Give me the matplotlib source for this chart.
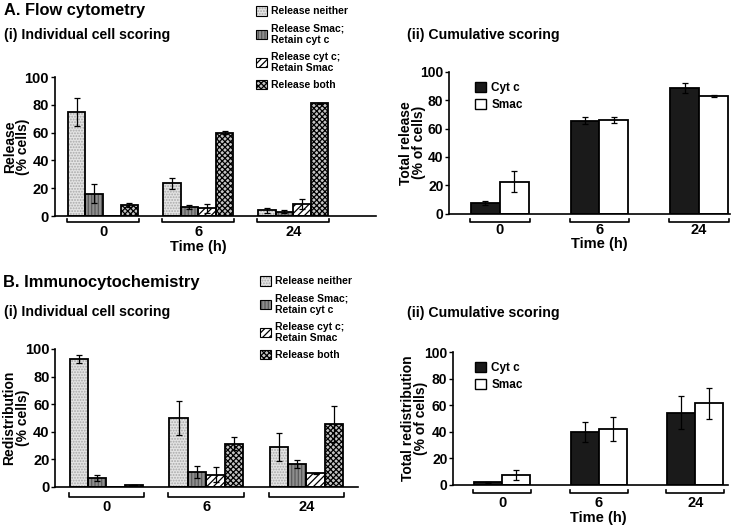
import matplotlib
matplotlib.use('Agg')
import matplotlib.pyplot as plt
import numpy as np
from matplotlib.patches import Patch
from matplotlib.transforms import blended_transform_factory
from matplotlib.legend_handler import HandlerTuple

plt.rcParams['font.family'] = ['Liberation Sans', 'DejaVu Sans']
plt.rcParams['font.weight'] = 'bold'
plt.rcParams['hatch.linewidth'] = 0.9

# ---------------- data ----------------
times = ['0', '6', '24']
categories = ['Release neither', 'Release Smac;\nRetain cyt c',
              'Release cyt c;\nRetain Smac', 'Release both']
cum_series = ['Cyt c', 'Smac']

# A(i) flow cytometry, individual cell scoring
a_neither = [75, 23.5, 4]
a_neither_err = [10, 4, 1.5]
a_smac = [16, 6.5, 3]
a_smac_err = [7, 1.5, 1]
a_cytc = [0, 5.5, 8.5]
a_cytc_err = [0, 3, 3.5]
a_both = [8, 60, 81]
a_both_err = [1.5, 1, 0.3]

# A(ii) flow cytometry, cumulative scoring
a_cum_cytc = [7.5, 65.5, 88.5]
a_cum_cytc_err = [1.5, 2.5, 3.5]
a_cum_smac = [22.5, 66, 83]
a_cum_smac_err = [7.5, 2, 0.5]

# B(i) immunocytochemistry, individual cell scoring
b_neither = [92.5, 50, 29]
b_neither_err = [3, 12, 10]
b_smac = [6.5, 11, 16.5]
b_smac_err = [2.5, 4.5, 3]
b_cytc = [0, 9, 10]
b_cytc_err = [0, 5.5, 0.5]
b_both = [1.5, 31.5, 45.5]
b_both_err = [0.3, 5, 13]

# B(ii) immunocytochemistry, cumulative scoring
b_cum_cytc = [2, 40, 54.5]
b_cum_cytc_err = [0.5, 7.5, 12.5]
b_cum_smac = [7.5, 42, 61.5]
b_cum_smac_err = [3.5, 9, 11.5]

yticks = [0, 20, 40, 60, 80, 100]

# ---------------- styles ----------------
ind_styles = [
    dict(fc='#e4e4e4', hatch='......', hc='#a8a8a8'),
    dict(fc='#8e8e8e', hatch='|||||', hc='#5a5a5a'),
    dict(fc='white', hatch='/////', hc='black'),
    dict(fc='#c4c4c4', hatch='xxxxxx', hc='black'),
]
cum_styles = ['#1a1a1a', 'white']

W, H = 751, 528
fig = plt.figure(figsize=(W / 100, H / 100), dpi=100)


def ax_px(l, r, t, b):
    return fig.add_axes([l / W, 1 - b / H, (r - l) / W, (b - t) / H])


def style_axis(ax, ylabel, lab_x, tsize):
    ax.set_ylim(0, 100)
    ax.set_yticks(yticks)
    ax.set_xticks([])
    for s in ['top', 'right']:
        ax.spines[s].set_visible(False)
    for s in ['left', 'bottom']:
        ax.spines[s].set_linewidth(1.2)
    ax.tick_params(axis='y', direction='out', length=3, width=1.0,
                   labelsize=tsize, pad=1)
    for t in ax.get_yticklabels():
        t.set_fontweight('bold')
    ax.set_ylabel(ylabel, fontsize=10, fontweight='bold', linespacing=0.95)
    ax.yaxis.set_label_coords(lab_x, 0.5)


def brackets(ax, centers, half, off_frac, lab_frac, tick_frac=0.025):
    tr = blended_transform_factory(ax.transData, ax.transAxes)
    for c, lab in zip(centers, times):
        x0, x1 = c - half, c + half
        ax.plot([x0, x0, x1, x1],
                [-off_frac + tick_frac, -off_frac, -off_frac, -off_frac + tick_frac],
                color='black', lw=1.2, transform=tr, clip_on=False)
        ax.text(c, -lab_frac, lab, transform=tr, ha='center', va='center',
                fontsize=10.5, fontweight='bold')


def individual(ax, series, errs, w):
    x = np.arange(len(times))
    offs = (np.arange(4) - 1.5) * w
    for vals, err, st, o in zip(series, errs, ind_styles, offs):
        ax.bar(x + o, vals, w, color=st['fc'], edgecolor=st['hc'],
               hatch=st['hatch'], linewidth=0, zorder=2)
        ax.bar(x + o, vals, w, fill=False, edgecolor='black', linewidth=1.3,
               zorder=3)
        v = np.array(vals, float)
        e = np.array(err, float)
        m = v > 0
        ax.errorbar((x + o)[m], v[m], yerr=e[m], fmt='none', ecolor='black',
                    elinewidth=0.9, capsize=2, capthick=0.9, zorder=4)
    return x


def cumulative(ax, series, errs, w):
    x = np.arange(len(times))
    offs = (np.arange(2) - 0.5) * w
    for vals, err, fc, o in zip(series, errs, cum_styles, offs):
        ax.bar(x + o, vals, w, color=fc, edgecolor='black', linewidth=1.3,
               zorder=2)
        ax.errorbar(x + o, vals, yerr=err, fmt='none', ecolor='black',
                    elinewidth=0.9, capsize=2, capthick=0.9, zorder=4)
    return x


def ind_legend(ax, anchor):
    handles = []
    for st in ind_styles:
        handles.append((Patch(facecolor=st['fc'], edgecolor=st['hc'],
                              hatch=st['hatch'], linewidth=0),
                        Patch(fill=False, edgecolor='black', linewidth=0.8)))
    leg = ax.legend(handles, categories, loc='upper left',
                    bbox_to_anchor=anchor, bbox_transform=fig.transFigure,
                    frameon=False, fontsize=7.5, handlelength=1.0,
                    handleheight=1.0, handletextpad=0.4, labelspacing=0.65,
                    borderpad=0, handler_map={tuple: HandlerTuple(ndivide=1)})
    for t in leg.get_texts():
        t.set_fontweight('bold')


def cum_legend(ax, anchor):
    handles = [Patch(facecolor=fc, edgecolor='black', linewidth=1.0)
               for fc in cum_styles]
    leg = ax.legend(handles, cum_series, loc='upper left',
                    bbox_to_anchor=anchor, bbox_transform=fig.transFigure,
                    frameon=False, fontsize=8.5, handlelength=0.9,
                    handleheight=0.9, handletextpad=0.5, labelspacing=0.45,
                    borderpad=0)
    for t in leg.get_texts():
        t.set_fontweight('bold')


def time_label(ax, yfrac):
    ax.text(1, -yfrac, 'Time (h)',
            transform=blended_transform_factory(ax.transData, ax.transAxes),
            ha='center', va='center', fontsize=10.5, fontweight='bold')


# ---------------- A(i) ----------------
ax1 = ax_px(54.5, 376, 77, 216)
w1 = 0.185
x = individual(ax1, [a_neither, a_smac, a_cytc, a_both],
               [a_neither_err, a_smac_err, a_cytc_err, a_both_err], w1)
ax1.set_xlim(-0.51, 2.87)
style_axis(ax1, 'Release\n(% cells)', -0.075, 10.5)
brackets(ax1, x, 2 * w1 + 0.01, 0.045, 0.118)
time_label(ax1, 0.222)
ind_legend(ax1, (251 / W, 1 - 1 / H))

# ---------------- A(ii) ----------------
ax2 = ax_px(449, 730, 71.7, 213.7)
w2 = 0.29
x = cumulative(ax2, [a_cum_cytc, a_cum_smac], [a_cum_cytc_err, a_cum_smac_err], w2)
ax2.set_xlim(-0.51, 2.31)
style_axis(ax2, 'Total release\n(% of cells)', -0.082, 10)
brackets(ax2, x, w2 + 0.01, 0.06, 0.115)
time_label(ax2, 0.215)
cum_legend(ax2, (469 / W, 1 - 76 / H))

# ---------------- B(i) ----------------
ax3 = ax_px(55, 358, 349, 487)
w3 = 0.185
x = individual(ax3, [b_neither, b_smac, b_cytc, b_both],
               [b_neither_err, b_smac_err, b_cytc_err, b_both_err], w3)
ax3.set_xlim(-0.515, 2.515)
style_axis(ax3, 'Redistribution\n(% cells)', -0.083, 10.5)
brackets(ax3, x, 2 * w3 + 0.01, 0.07, 0.145)
ind_legend(ax3, (255 / W, 1 - 271 / H))

# ---------------- B(ii) ----------------
ax4 = ax_px(453, 728, 352, 485)
w4 = 0.29
x = cumulative(ax4, [b_cum_cytc, b_cum_smac], [b_cum_cytc_err, b_cum_smac_err], w4)
ax4.set_xlim(-0.51, 2.34)
style_axis(ax4, 'Total redistribution\n(% of cells)', -0.09, 10)
brackets(ax4, x, w4 + 0.01, 0.06, 0.137)
time_label(ax4, 0.245)
cum_legend(ax4, (469 / W, 1 - 356 / H))

# ---------------- titles ----------------
def ftext(xp, yp, s, size):
    fig.text(xp / W, 1 - yp / H, s, ha='left', va='center', fontsize=size,
             fontweight='bold')

ftext(4, 11, 'A. Flow cytometry', 11.8)
ftext(4, 35, '(i) Individual cell scoring', 10.2)
ftext(407, 35, '(ii) Cumulative scoring', 10.2)
ftext(3, 283, 'B. Immunocytochemistry', 11.9)
ftext(4, 312, '(i) Individual cell scoring', 10.2)
ftext(407, 313, '(ii) Cumulative scoring', 10.2)

fig.savefig('out.png', dpi=100)
